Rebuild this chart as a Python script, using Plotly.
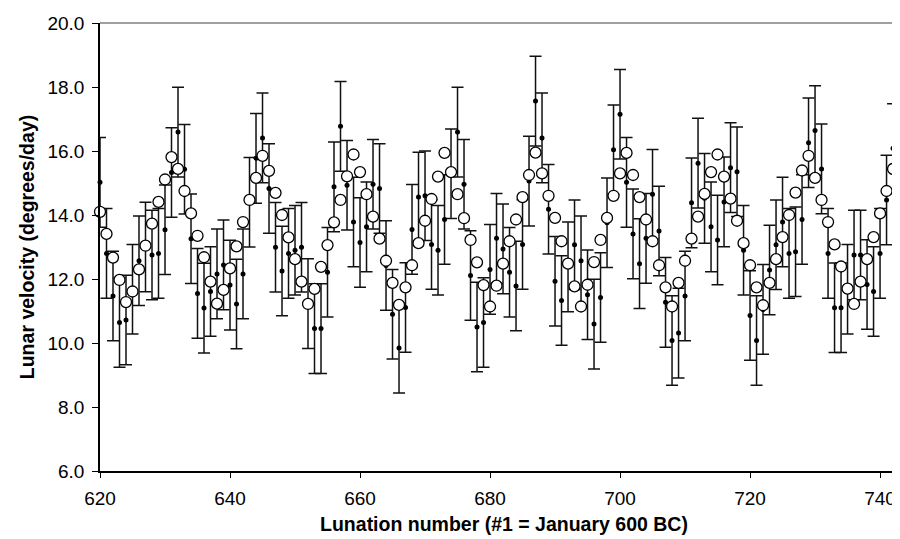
import plotly.graph_objects as go

lunation_start = 620
model = [14.10, 13.41, 12.67, 11.97, 11.28, 11.61, 12.30, 13.04, 13.73, 14.41,
         15.11, 15.81, 15.44, 14.75, 14.05, 13.35, 12.68, 11.92, 11.23, 11.66,
         12.33, 13.02, 13.78, 14.47, 15.16, 15.85, 15.38, 14.69, 14.00, 13.30,
         12.62, 11.92, 11.22, 11.69, 12.38, 13.06, 13.77, 14.47, 15.21, 15.89,
         15.34, 14.65, 13.95, 13.26, 12.57, 11.88, 11.19, 11.74, 12.43, 13.12,
         13.82, 14.50, 15.20, 15.94, 15.34, 14.65, 13.90, 13.22, 12.52, 11.81,
         11.14, 11.79, 12.48, 13.18, 13.86, 14.56, 15.25, 15.95, 15.30, 14.60,
         13.91, 13.18, 12.48, 11.77, 11.14, 11.82, 12.53, 13.22, 13.91, 14.60,
         15.30, 15.94, 15.25, 14.56, 13.86, 13.18, 12.43, 11.74, 11.14, 11.88,
         12.57, 13.26, 13.95, 14.66, 15.34, 15.89, 15.20, 14.51, 13.82, 13.12,
         12.43, 11.74, 11.18, 11.88, 12.62, 13.31, 14.00, 14.70, 15.39, 15.85,
         15.16, 14.47, 13.78, 13.08, 12.39, 11.70, 11.22, 11.92, 12.62, 13.31,
         14.05, 14.75, 15.44, 15.81]
observed = [15.02, 12.80, 11.47, 10.64, 10.72, 11.68, 12.57, 13.00, 12.75, 12.80,
            13.54, 15.33, 16.59, 15.43, 13.26, 11.55, 11.09, 11.61, 12.16, 12.44,
            11.81, 11.22, 12.16, 14.40, 15.77, 16.41, 14.83, 12.99, 12.25, 12.80,
            12.90, 12.99, 11.23, 10.45, 10.45, 12.21, 14.88, 16.77, 14.93, 13.78,
            13.14, 13.63, 14.96, 14.83, 12.42, 10.90, 9.84, 11.11, 13.55, 14.56,
            14.60, 13.08, 12.90, 13.86, 15.29, 16.59, 14.96, 12.11, 10.50, 10.64,
            12.30, 13.27, 12.94, 12.21, 11.78, 13.08, 15.06, 17.56, 16.41, 14.18,
            11.93, 11.33, 12.38, 13.07, 12.57, 11.51, 10.59, 11.42, 13.76, 16.04,
            17.15, 15.02, 13.41, 12.48, 13.27, 14.65, 13.50, 11.27, 10.08, 10.31,
            11.47, 14.38, 15.62, 14.52, 13.63, 13.22, 14.41, 15.48, 15.35, 12.90,
            10.86, 10.08, 11.05, 12.28, 13.07, 13.78, 12.80, 12.85, 13.86, 16.26,
            16.64, 15.44, 12.80, 11.10, 11.10, 11.68, 12.75, 12.75, 11.83, 11.61,
            12.80, 14.47, 16.08, 16.36]
error_halfwidth = 1.4
lunations = list(range(lunation_start, lunation_start + len(model)))

x_ticks = [620, 640, 660, 680, 700, 720, 740]
y_ticks = [6, 8, 10, 12, 14, 16, 18, 20]

fig = go.Figure()
fig.add_trace(go.Scatter(
    x=lunations, y=observed, mode="markers",
    marker=dict(color="black", size=5),
    error_y=dict(type="constant", value=error_halfwidth, color="#111111",
                 thickness=1.5, width=6),
    cliponaxis=False, showlegend=False))
fig.add_trace(go.Scatter(
    x=lunations, y=model, mode="markers",
    marker=dict(color="white", size=11, line=dict(color="black", width=1.3)),
    cliponaxis=False, showlegend=False))

font_family = "Liberation Sans, Arial, sans-serif"
fig.update_layout(
    width=900, height=539,
    margin=dict(l=92, r=0, t=15, b=76),
    paper_bgcolor="white", plot_bgcolor="white",
    font=dict(family=font_family, size=19, color="black"),
    xaxis=dict(range=[620, 744.3], tickvals=x_ticks, showgrid=False, zeroline=False,
               showline=True, linecolor="black", linewidth=1.5,
               ticks="outside", ticklen=5, tickwidth=1, tickcolor="black",
               tickfont=dict(size=19), ticklabelstandoff=4,
               title=dict(text="<b>Lunation number (#1 = January 600 BC)</b>",
                          font=dict(size=19.5), standoff=10)),
    yaxis=dict(range=[6, 20], tickvals=y_ticks, tickformat=".1f", showgrid=False,
               zeroline=False, showline=True, linecolor="black", linewidth=1.5,
               ticks="outside", ticklen=6, tickwidth=1, tickcolor="black",
               tickfont=dict(size=19), ticklabelstandoff=4,
               title=dict(text="<b>Lunar velocity (degrees/day)</b>",
                          font=dict(size=19.5), standoff=8)),
    shapes=[dict(type="line", xref="paper", yref="paper", x0=0, x1=1, y0=1, y1=1,
                 line=dict(color="#808080", width=1.5))],
)
fig.write_html("out.html")
